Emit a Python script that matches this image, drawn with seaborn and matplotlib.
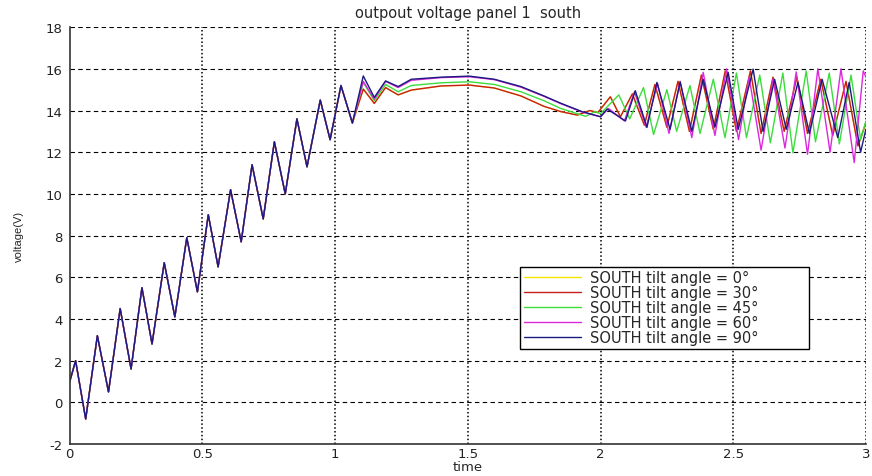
import numpy as np
import pandas as pd
import matplotlib
matplotlib.use("Agg")
import matplotlib.pyplot as plt
import seaborn as sns

# ---- data (turning points) ----
# common rising part (all tilt angles practically coincide)
t_rise = [0.0, 0.022, 0.06, 0.104, 0.146, 0.19, 0.231, 0.272, 0.31, 0.356, 0.396,
          0.441, 0.481, 0.522, 0.559, 0.606, 0.646, 0.687, 0.729, 0.771, 0.812,
          0.856, 0.894, 0.944, 0.981, 1.022, 1.065]
v_rise = [1.0, 2.0, -0.8, 3.2, 0.5, 4.5, 1.6, 5.5, 2.8, 6.7, 4.1,
          7.9, 5.3, 9.0, 6.5, 10.2, 7.7, 11.4, 8.8, 12.5, 10.0,
          13.6, 11.3, 14.5, 12.6, 15.2, 13.4]

t_90 = [1.106, 1.1475, 1.19, 1.2375, 1.287, 1.4, 1.506, 1.6, 1.7, 1.787, 1.85, 1.93,
        2.0, 2.025, 2.094, 2.131, 2.175, 2.2125, 2.262, 2.3, 2.344, 2.387, 2.431,
        2.481, 2.519, 2.575, 2.6125, 2.656, 2.7, 2.744, 2.787, 2.835, 2.894, 2.937,
        2.98, 3.0]
v_90 = [15.66, 14.63, 15.42, 15.15, 15.5, 15.6, 15.65, 15.5, 15.15, 14.7, 14.35, 13.95,
        13.7, 14.07, 13.5, 14.95, 13.19, 15.35, 13.1, 15.37, 13.0, 15.5, 13.2,
        15.83, 13.1, 15.99, 13.0, 15.5, 13.1, 15.35, 12.9, 15.5, 12.7, 15.35,
        12.0, 13.1]

t_60 = [1.106, 1.1475, 1.19, 1.2375, 1.287, 1.4, 1.506, 1.6, 1.7, 1.787, 1.85, 1.93,
        2.0, 2.03, 2.09, 2.128, 2.172, 2.215, 2.258, 2.30, 2.344, 2.387, 2.431,
        2.475, 2.52, 2.56, 2.605, 2.65, 2.695, 2.7375, 2.78, 2.819, 2.865, 2.906,
        2.956, 2.99, 3.0]
v_60 = [15.4, 14.55, 15.4, 15.1, 15.45, 15.58, 15.62, 15.48, 15.12, 14.68, 14.33, 13.93,
        13.7, 14.1, 13.5, 14.9, 13.2, 15.3, 12.9, 15.4, 12.7, 15.83, 12.8,
        16.0, 12.6, 15.6, 12.1, 15.5, 12.2, 15.85, 11.9, 16.0, 12.0, 16.0,
        11.5, 15.9, 15.6]

t_45 = [1.106, 1.1475, 1.19, 1.2375, 1.287, 1.4, 1.506, 1.6, 1.7, 1.787, 1.85, 1.944,
        1.98, 2.0, 2.069, 2.11, 2.162, 2.2, 2.25, 2.287, 2.337, 2.375, 2.425,
        2.469, 2.512, 2.55, 2.6, 2.64, 2.687, 2.725, 2.775, 2.81, 2.862, 2.9,
        2.944, 2.98, 3.0]
v_45 = [15.35, 14.47, 15.25, 14.9, 15.2, 15.33, 15.38, 15.25, 14.9, 14.47, 14.1, 13.72,
        13.95, 13.85, 14.75, 13.6, 15.1, 12.85, 15.0, 13.0, 15.2, 12.9, 15.5,
        12.7, 15.8, 12.7, 15.7, 12.45, 15.8, 11.97, 15.9, 12.5, 15.8, 12.4,
        15.7, 12.6, 13.5]

t_30 = [1.106, 1.1475, 1.19, 1.2375, 1.287, 1.4, 1.506, 1.6, 1.7, 1.787, 1.85, 1.9125,
        1.96, 1.99, 2.037, 2.075, 2.12, 2.165, 2.205, 2.25, 2.292, 2.335, 2.38,
        2.425, 2.47, 2.512, 2.565, 2.605, 2.65, 2.692, 2.74, 2.78, 2.83, 2.875,
        2.925, 2.97, 3.0]
v_30 = [15.03, 14.34, 15.1, 14.75, 14.98, 15.18, 15.22, 15.08, 14.7, 14.2, 13.95, 13.78,
        14.0, 13.9, 14.66, 13.7, 14.8, 13.3, 15.25, 13.2, 15.4, 13.0, 15.7,
        13.1, 15.9, 13.0, 15.9, 12.9, 15.6, 13.0, 15.6, 12.9, 15.5, 12.8,
        15.4, 12.3, 13.4]

# 0 deg curve lies under the 30 deg one in the picture
t_0 = list(t_30)
v_0 = list(v_30)

labels = ["SOUTH tilt angle = 0\u00b0", "SOUTH tilt angle = 30\u00b0",
          "SOUTH tilt angle = 45\u00b0", "SOUTH tilt angle = 60\u00b0",
          "SOUTH tilt angle = 90\u00b0"]
colors = ["#f2e600", "#c81e1e", "#3cdc3c", "#dc28dc", "#1a1a80"]
series_t = [t_0, t_30, t_45, t_60, t_90]
series_v = [v_0, v_30, v_45, v_60, v_90]

frames = []
for lab, tt, vv in zip(labels, series_t, series_v):
    frames.append(pd.DataFrame({"time": t_rise + tt, "voltage": v_rise + vv,
                                "series": lab}))
df = pd.concat(frames, ignore_index=True)

sns.set_style("white")
plt.rcParams["font.family"] = ["DejaVu Sans"]

fig = plt.figure(figsize=(8.72, 4.77), dpi=100)
ax = fig.add_axes([0.080, 0.067, 0.913, 0.874])

sns.lineplot(data=df, x="time", y="voltage", hue="series", hue_order=labels,
             palette=colors, sort=False, estimator=None, units="series",
             linewidth=1.0, ax=ax, legend=False)

ax.set_xlim(0, 3)
ax.set_ylim(-2, 18)
ax.set_xticks(np.arange(0, 3.01, 0.5))
ax.set_xticklabels(["0", "0.5", "1", "1.5", "2", "2.5", "3"])
ax.set_yticks(np.arange(-2, 18.01, 2))
ax.set_yticklabels([str(int(v)) for v in np.arange(-2, 18.01, 2)])

for v in np.arange(-2, 18.01, 2):
    ax.axhline(v, color="black", linestyle=(0, (4, 3)), linewidth=0.8, zorder=0)
for v in np.arange(0.5, 3.01, 0.5):
    ax.axvline(v, color="black", linestyle=(0, (1, 1.5)), linewidth=1.1, zorder=0)

for s in ["top", "right"]:
    ax.spines[s].set_visible(False)
for s in ["left", "bottom"]:
    ax.spines[s].set_color("#333333")
    ax.spines[s].set_linewidth(1.2)

ax.tick_params(axis="both", direction="in", length=4, width=1.0, colors="#222222",
               labelsize=9.5)
ax.tick_params(axis="x", pad=2)
ax.tick_params(axis="y", pad=5)
ax.set_xlabel("time", fontsize=9.5, labelpad=0)
ax.set_ylabel("voltage(V)", fontsize=8, labelpad=16, family="Liberation Sans")
ax.set_title("outpout voltage panel 1  south", fontsize=10.5, pad=7)

handles = [plt.Line2D([0], [0], color=c, lw=1.0) for c in colors]
leg = ax.legend(handles, labels, loc="lower left", bbox_to_anchor=(0.566, 0.228, 0.363, 0.194),
                mode="expand", fontsize=10.5, frameon=True, fancybox=False,
                edgecolor="black", framealpha=1, handlelength=3.9, labelspacing=0.0,
                borderpad=0.25, handletextpad=0.6, borderaxespad=0)
leg.get_frame().set_linewidth(1.0)

fig.savefig("out.png", dpi=100)
